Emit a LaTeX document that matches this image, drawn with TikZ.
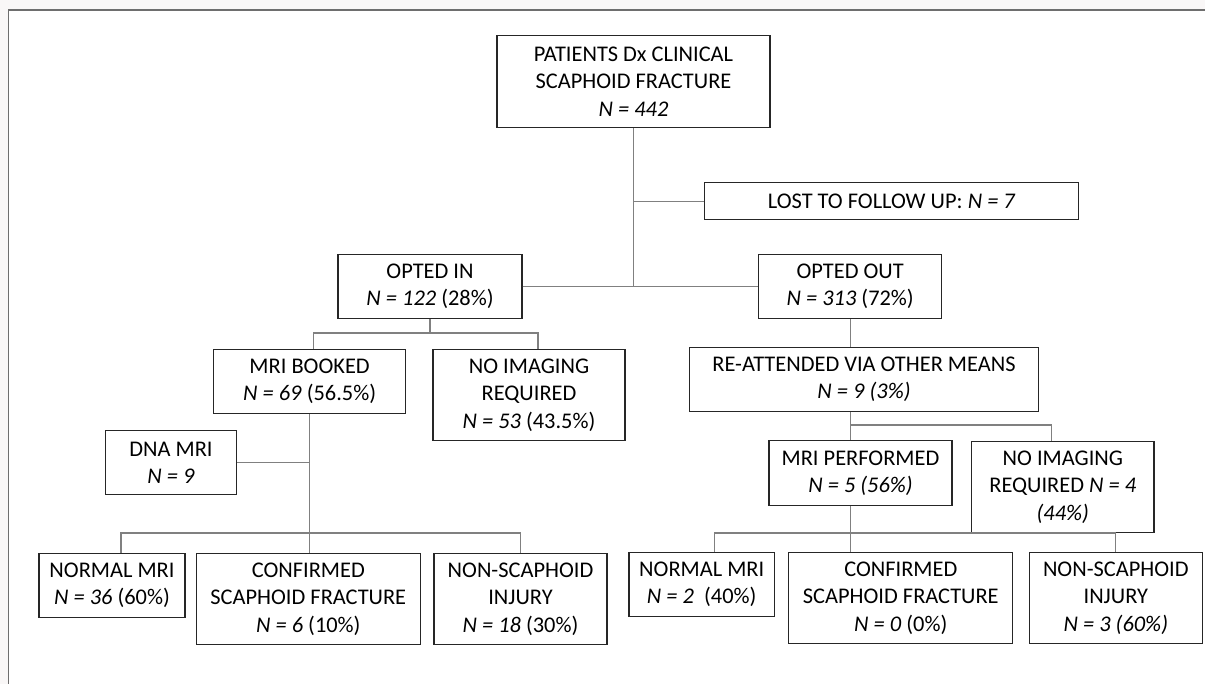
\documentclass[tikz,border=0pt]{standalone}
\usepackage{fontspec}
\setmainfont{Carlito}
\usetikzlibrary{positioning}
\definecolor{framegray}{HTML}{6E6E6E}
\definecolor{pagegray}{HTML}{F9F7F7}
\definecolor{linkgray}{HTML}{808080}
\tikzset{
    stage/.style={
        rectangle,
        draw=black!85,
        line width=1.2pt,
        align=center,
        anchor=north,
        inner sep=2pt,
        fill=white,
        font=\fontsize{22.4}{27.3}\selectfont
    },
    link/.style={
        draw=linkgray,
        line width=1.1pt
    }
}

\begin{document}
\begin{tikzpicture}[x=1pt, y=-1pt]

\useasboundingbox (0,0) rectangle (1205,684);

% Page frame
\fill[pagegray] (0,0) rectangle (1205,684);
\fill[white] (8.4,10) rectangle (1205,684);
\draw[framegray, line width=1.5pt] (8.4,684) -- (8.4,10) -- (1205,10);

% Top of the flow
\node[stage, minimum width=273pt, minimum height=92pt] (top) at (633.5,35) {PATIENTS Dx CLINICAL\\SCAPHOID FRACTURE\\\textit{N = 442}};
\node[stage, minimum width=374pt, minimum height=37pt] (lost) at (891.7,182) {LOST TO FOLLOW UP: \textit{N = 7}};
\node[stage, minimum width=184pt, minimum height=64pt] (optin) at (430,254) {OPTED IN\\\textit{N = 122} (28\%)};
\node[stage, minimum width=183pt, minimum height=64pt] (optout) at (850.2,254) {OPTED OUT\\\textit{N = 313} (72\%)};

% Opted in branch
\node[stage, minimum width=192pt, minimum height=64pt] (mribook) at (309.6,349) {MRI BOOKED\\\textit{N = 69} (56.5\%)};
\node[stage, minimum width=192pt, minimum height=91pt] (noimgL) at (529,349) {NO IMAGING\\REQUIRED\\\textit{N = 53} (43.5\%)};
\node[stage, minimum width=131pt, minimum height=64pt] (dna) at (171,430) {DNA MRI\\\textit{N = 9}};
\node[stage, minimum width=146pt, minimum height=64pt] (normL) at (112,553) {NORMAL MRI\\\textit{N = 36} (60\%)};
\node[stage, minimum width=224pt, minimum height=91pt] (confL) at (308.3,553) {CONFIRMED\\SCAPHOID FRACTURE\\\textit{N = 6} (10\%)};
\node[stage, minimum width=173pt, minimum height=91pt] (nonL) at (520.5,553) {NON-SCAPHOID\\INJURY\\\textit{N = 18} (30\%)};

% Opted out branch
\node[stage, minimum width=349pt, minimum height=64pt] (reatt) at (864,347) {RE-ATTENDED VIA OTHER MEANS\\\textit{N = 9 (3\%)}};
\node[stage, minimum width=183pt, minimum height=65pt] (mriperf) at (860.5,440) {MRI PERFORMED\\\textit{N = 5 (56\%)}};
\node[stage, minimum width=182.5pt, minimum height=91pt] (noimgR) at (1062.8,441) {NO IMAGING\\REQUIRED \textit{N = 4}\\\textit{(44\%)}};
\node[stage, minimum width=145.5pt, minimum height=64pt] (normR) at (701.7,552) {NORMAL MRI\\\textit{N = 2}~ (40\%)};
\node[stage, minimum width=224pt, minimum height=91pt] (confR) at (900.8,552) {CONFIRMED\\SCAPHOID FRACTURE\\\textit{N = 0} (0\%)};
\node[stage, minimum width=173pt, minimum height=91pt] (nonR) at (1115.8,552) {NON-SCAPHOID\\INJURY\\\textit{N = 3 (60\%)}};

% Trunk
\draw[link] (top.south) -- (top.south |- optout.west);
\draw[link] (top.south |- lost.west) -- (lost.west);
\draw[link] (optin.east) -- (optout.west);

% Opted in links
\draw[link] (optin.south) -- ++(0,15);
\draw[link] ([xshift=4pt]mribook.north) -- ++(0,-16) -| ([xshift=9pt]noimgL.north);
\draw[link] (mribook.south) -- (mribook.south |- confL.north);
\draw[link] (dna.east) -- (dna.east -| mribook.south);
\draw[link] ([xshift=9pt]normL.north) -- ++(0,-20) -| (nonL.north);

% Opted out links
\draw[link] (optout.south) -- (optout.south |- reatt.north);
\draw[link] (optout.south |- reatt.south) -- (optout.south |- mriperf.north);
\draw[link] (optout.south |- mriperf.north) ++(0,-15) -| ([xshift=-11pt]noimgR.north);
\draw[link] (optout.south |- mriperf.south) -- (optout.south |- confR.north);
\draw[link] ([xshift=12.5pt]normR.north) -- ++(0,-19) -| (nonR.north);

\end{tikzpicture}
\end{document}
